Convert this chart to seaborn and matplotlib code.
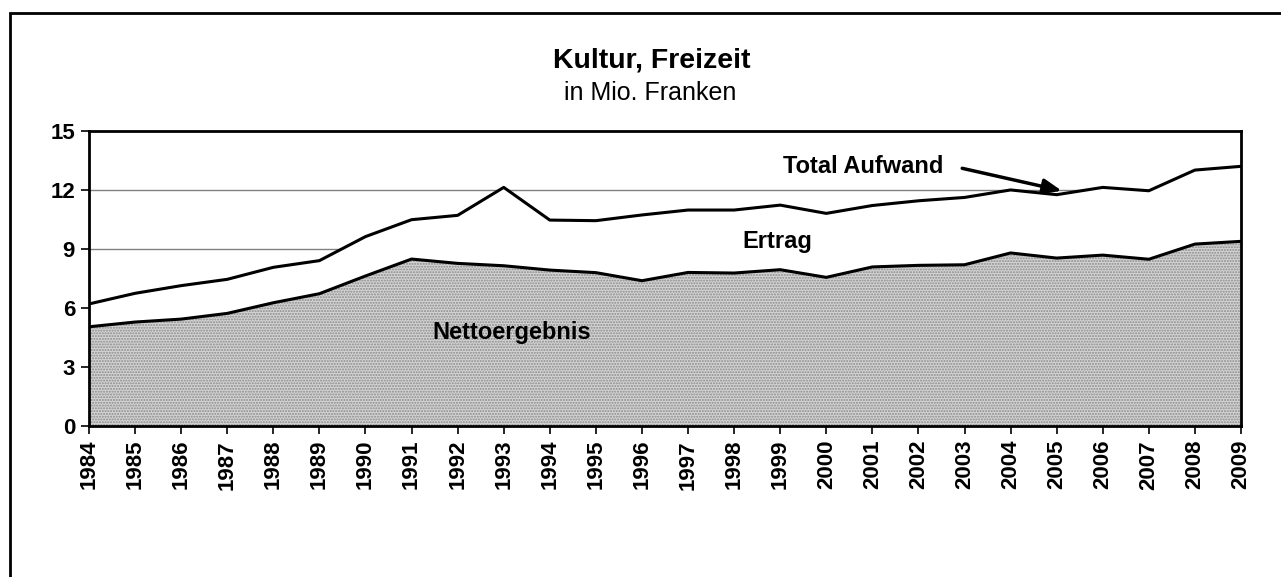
import numpy as np
import pandas as pd
import seaborn as sns
import matplotlib.pyplot as plt
from matplotlib.patches import Rectangle

# Werte in Mio. Franken
jahre = list(range(1984, 2010))
total_aufwand = [6.20, 6.74, 7.13, 7.45, 8.06, 8.40, 9.62, 10.48, 10.70, 12.12,
                 10.46, 10.43, 10.72, 10.97, 10.97, 11.22, 10.80, 11.20, 11.44, 11.61,
                 11.99, 11.75, 12.12, 11.95, 13.00, 13.19]
nettoergebnis = [5.04, 5.28, 5.43, 5.72, 6.26, 6.72, 7.62, 8.48, 8.26, 8.14,
                 7.92, 7.79, 7.38, 7.80, 7.77, 7.94, 7.55, 8.08, 8.16, 8.19,
                 8.79, 8.53, 8.68, 8.47, 9.24, 9.38]
y_ticks = [0, 3, 6, 9, 12, 15]

df = pd.DataFrame({"Jahr": jahre, "Total Aufwand": total_aufwand, "Nettoergebnis": nettoergebnis})

sns.set_style("ticks")
plt.rcParams["font.family"] = ["Liberation Sans", "DejaVu Sans"]
plt.rcParams["hatch.linewidth"] = 1.0
plt.rcParams["text.color"] = "black"
plt.rcParams["xtick.color"] = "black"
plt.rcParams["ytick.color"] = "black"

fig = plt.figure(figsize=(12.81, 5.77), dpi=100)
ax = fig.add_axes([89 / 1281, 1 - 426 / 577, (1241 - 89) / 1281, (426 - 130.7) / 577])

# Rahmen um die ganze Grafik (rechts/unten abgeschnitten)
fig.patches.append(Rectangle((10 / 1281, -0.1), 1.2, 1 - 13 / 577 + 0.1, transform=fig.transFigure,
                             fill=False, edgecolor="black", linewidth=2, zorder=0))

# gridlines behind the areas
for t in y_ticks[1:-1]:
    ax.axhline(t, color="#808080", linewidth=1, zorder=0)

ax.fill_between(df["Jahr"], 0, df["Nettoergebnis"], facecolor="#d4d4d4", edgecolor="#8a8a8a",
                hatch="......", linewidth=0, zorder=1)
ax.fill_between(df["Jahr"], df["Nettoergebnis"], df["Total Aufwand"], facecolor="white",
                linewidth=0, zorder=1)

sns.lineplot(data=df, x="Jahr", y="Total Aufwand", color="black", linewidth=2.2, ax=ax, zorder=3)
sns.lineplot(data=df, x="Jahr", y="Nettoergebnis", color="black", linewidth=2.2, ax=ax, zorder=3)

ax.set_xlim(1984, 2009)
ax.set_ylim(0, 15)
ax.set_xticks(jahre)
ax.set_xticklabels([str(j) for j in jahre], rotation=90, fontweight="bold", fontsize=16)
ax.set_yticks(y_ticks)
ax.set_yticklabels([str(t) for t in y_ticks], fontweight="bold", fontsize=16)
ax.set_xlabel("")
ax.set_ylabel("")
ax.tick_params(axis="both", direction="out", length=6, width=1.2, pad=4)

for s in ax.spines.values():
    s.set_visible(True)
    s.set_linewidth(2)
    s.set_color("black")
    s.set_zorder(4)

fig.text(652 / 1281, 1 - 60 / 577, "Kultur, Freizeit", ha="center", va="center",
         fontsize=20.5, fontweight="bold")
fig.text(650 / 1281, 1 - 93 / 577, "in Mio. Franken", ha="center", va="center", fontsize=18)

ax.text(2000.8, 13.2, "Total Aufwand", ha="center", va="center", fontsize=17, fontweight="bold", zorder=5)
ax.text(1998.93, 9.35, "Ertrag", ha="center", va="center", fontsize=17, fontweight="bold", zorder=5)
ax.text(1993.17, 4.77, "Nettoergebnis", ha="center", va="center", fontsize=17, fontweight="bold", zorder=5)
ax.annotate("", xy=(2005.11, 11.95), xytext=(2002.95, 13.09),
            arrowprops=dict(arrowstyle="-|>,head_length=1.1,head_width=0.45", color="black",
                            linewidth=2.5, shrinkA=0, shrinkB=0), zorder=5)

fig.savefig("out.png", dpi=100)
